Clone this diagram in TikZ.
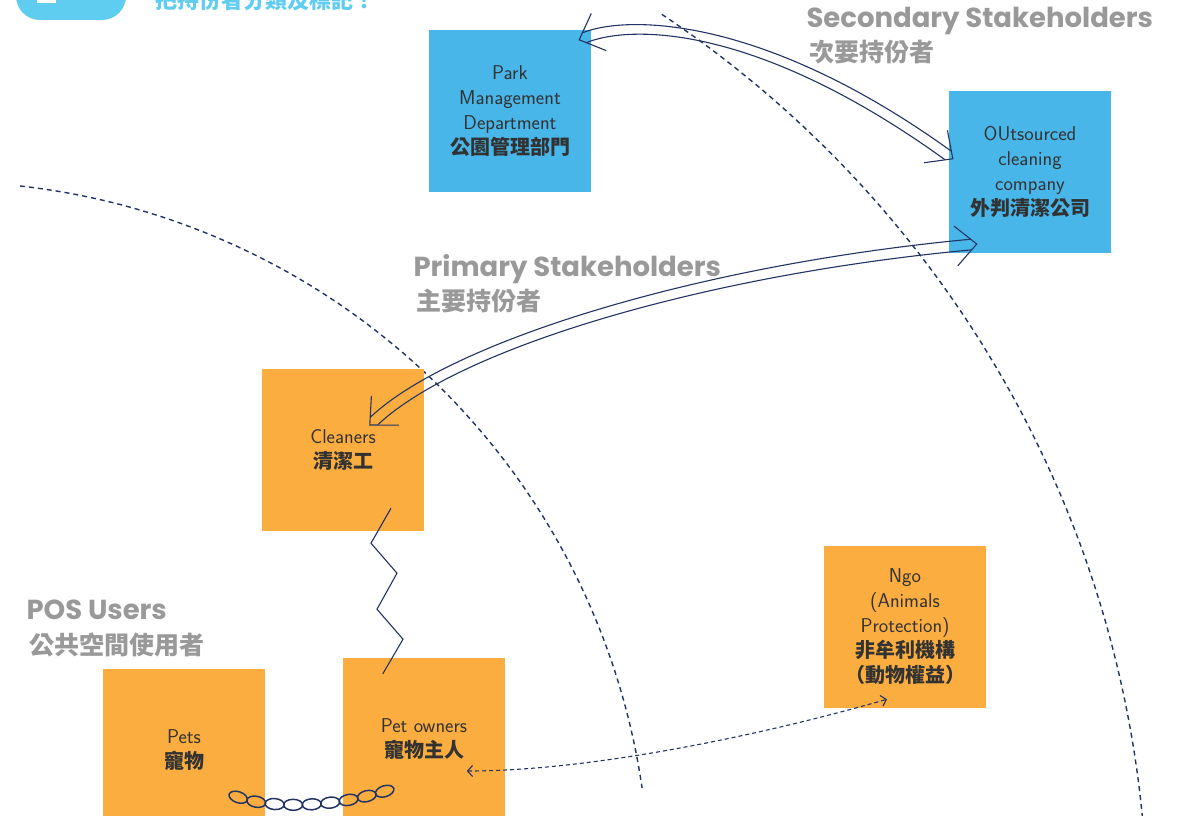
\documentclass[tikz,border=0pt]{standalone}
\usepackage{fontspec}
\usepackage{tikz}
\usetikzlibrary{arrows.meta,decorations.markings,positioning}
\newfontfamily\cjk{Noto Sans CJK TC}
\newfontfamily\headfont{Poppins}
\definecolor{navy}{RGB}{35,52,100}
\definecolor{skyblue}{RGB}{72,182,232}
\definecolor{sticky}{RGB}{251,173,64}
\definecolor{headgray}{RGB}{153,153,153}
\definecolor{titleblue}{RGB}{95,205,240}
\definecolor{ink}{RGB}{50,50,50}
\newcommand{\zh}[1]{{\cjk\bfseries\fontsize{20}{25}\selectfont #1}}
\tikzset{note/.style={rectangle,minimum size=162,inner sep=0pt,align=center,text=ink,
			font=\sffamily\fontsize{20}{25}\selectfont},
		secondary/.style={note,fill=skyblue},
		primary/.style={note,fill=sticky},
		vhead/.style={draw=navy,line width=1.1pt,line join=miter},
		rail/.style={draw=navy,line width=1.1pt,shorten <=6pt,shorten >=6pt},
		heads/.style={postaction={decorate,decoration={markings,
				mark=at position 0 with {\draw[vhead] (21,20) -- (0,0) -- (21,-20);},
				mark=at position 0.9999 with {\draw[vhead] (-21,20) -- (0,0) -- (-21,-20);}}}},
		hint/.style={{Straight Barb[length=5pt,width=11pt]}-{Straight Barb[length=5pt,width=11pt]},
			dash pattern=on 4pt off 3pt,line width=1.1pt,draw=navy},
		wire/.style={line width=1.1pt,draw=navy},
		ring/.style={dash pattern=on 5pt off 4pt,line width=1.4pt,draw=navy}}

\begin{document}
\begin{tikzpicture}[x=1pt,y=-1pt,
		group/.style={anchor=base west,text=headgray,font=\headfont\bfseries\fontsize{27.5}{30}\selectfont},
		groupzh/.style={anchor=base west,text=headgray,font=\cjk\bfseries\fontsize{25}{30}\selectfont},
		links/.style={postaction={decorate,decoration={markings,
			mark=between positions 0 and 1 step 0.1249 with {\draw[navy,line width=1.5pt] (0,0) ellipse (9.5 and 5.5);}}}}]
	\path[use as bounding box,clip] (0,0) rectangle (1180,816);
	\fill[white] (0,0) rectangle (1180,816);

	% circles of stakeholders
	\draw[ring] plot[domain=-83.6:-8.28,samples=80] ({-59+708.5*cos(\x)},{890+708.5*sin(\x)});
	\draw[ring] plot[domain=-56.35:7.27,samples=80] ({58.4+1089*cos(\x)},{920.8+1089*sin(\x)});

	% heading strip
	\fill[titleblue,rounded corners=24] (16,-40) rectangle (126,20);
	\fill[white] (37,-5) rectangle (56,3);
	\node[anchor=base west,text=titleblue,font=\cjk\bfseries\fontsize{22}{26}\selectfont] (title) at (152,9) {把持份者分類及標記！};

	\node[group] (sec) at (803,28) {Secondary Stakeholders};
	\node[groupzh] (seczh) at (806,62) {次要持份者};
	\node[group] (prim) at (410,276) {Primary Stakeholders};
	\node[groupzh] (primzh) at (413,310) {主要持份者};
	\node[group] (pos) at (23,619) {POS Users};
	\node[groupzh] (poszh) at (26,654) {公共空間使用者};

	\node[secondary] (park) at (510,111) {Park\\Management\\Department\\\zh{公園管理部門}};
	\node[secondary] (outsrc) at (1030,172) {OUtsourced\\cleaning\\company\\\zh{外判清潔公司}};
	\node[primary] (clean) at (343,450) {Cleaners\\\zh{清潔工}};
	\node[primary] (ngo) at (905,627) {Ngo\\(Animals\\Protection)\\\zh{非牟利機構}\\\zh{（動物權益）}};
	\node[primary] (pets) at (184,750) {Pets\\\zh{寵物}};
	\node[primary] (petown) at (424,739) {Pet owners\\\zh{寵物主人}};

	% park <-> outsourced, two rails and the heads
	\draw[rail] ([shift={(-14,5.1)}]park.north east) .. controls +(50,-20) and +(-193,-139) .. ([shift={(7.1,63.7)}]outsrc.north west);
	\draw[rail] ([shift={(-10,14.9)}]park.north east) .. controls +(50,-20) and +(-193,-139) .. ([shift={(0.9,72.3)}]outsrc.north west);
	\path[heads] ([shift={(-12,10)}]park.north east) .. controls +(50,-20) and +(-193,-139) .. ([shift={(4,68)}]outsrc.north west);
	% cleaners <-> outsourced
	\draw[rail] ([shift={(104.4,-28.9)}]clean.west) .. controls +(85,-80) and +(-277,26) .. ([shift={(27.5,66.7)}]outsrc.west);
	\draw[rail] ([shift={(111.6,-21.1)}]clean.west) .. controls +(85,-80) and +(-277,26) .. ([shift={(28.5,77.3)}]outsrc.west);
	\path[heads] ([shift={(108,-25)}]clean.west) .. controls +(85,-80) and +(-277,26) .. ([shift={(28,72)}]outsrc.west);

	\draw[wire] ([shift={(48,-23)}]clean.south) -- ++(-20,35) -- ++(26,30) -- ++(-20,36) -- ++(26,30) -- ([shift={(40,16)}]petown.north west);
	\path[links] ([shift={(-27,-34)}]pets.south east) .. controls +(32,11) and +(-55,17) .. ([shift={(42,-29)}]petown.south west);
	\draw[hint] ([shift={(124,32)}]petown.west) .. controls +(133,0) and +(-107,31) .. ([shift={(-18,-9)}]ngo.south);
\end{tikzpicture}
\end{document}
